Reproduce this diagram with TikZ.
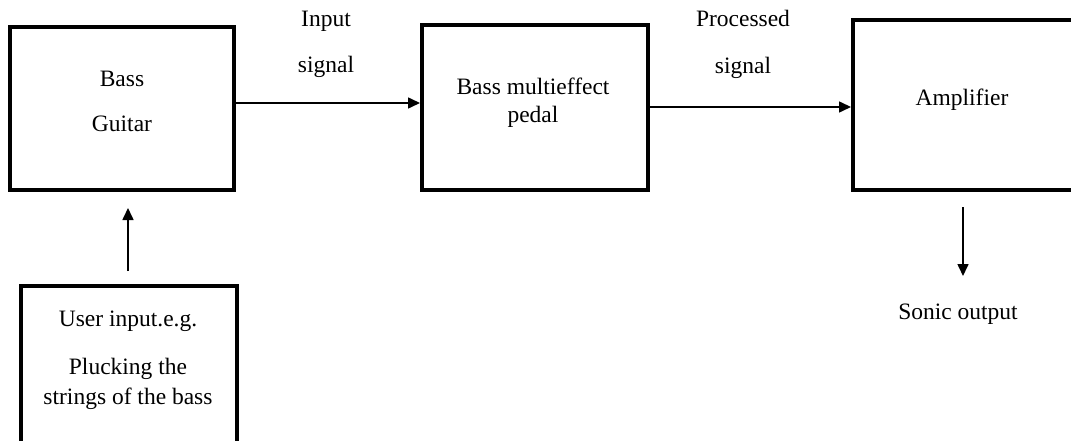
\documentclass[tikz,border=0pt]{standalone}
\usepackage{fontspec}
\setmainfont{Liberation Serif}
\usetikzlibrary{arrows.meta,calc}
\begin{document}
\begin{tikzpicture}[x=1pt,y=-1pt,
  block/.style={draw=black,line width=4pt,rectangle,inner sep=0pt,fill=none},
  lbl/.style={anchor=base,inner sep=0pt,font=\fontsize{23.5}{28}\selectfont},
  flow/.style={line width=1.6pt,-{Triangle[length=12pt,width=11pt]}}]
  \useasboundingbox (0,0) rectangle (1071,441);
  \clip (0,0) rectangle (1071,441);
  % blocks
  \node[block,minimum width=224pt,minimum height=163pt] (guitar) at (122,108.5) {};
  \node[block,minimum width=226pt,minimum height=165pt] (pedal) at (535,107.5) {};
  \node[block,minimum width=240pt,minimum height=170pt] (amp) at (973,105) {};
  \node[block,minimum width=216pt,minimum height=180pt] (user) at (128.5,376) {};
  % block texts
  \node[lbl] (t1) at (122,87) {Bass};
  \node[lbl] (t2) at (122,132) {Guitar};
  \node[lbl] (t3) at (533,95) {Bass multieffect};
  \node[lbl] (t4) at (533,123) {pedal};
  \node[lbl] (t5) at (962,106) {Amplifier};
  \node[lbl] (t6) at (128,326) {User input.e.g.};
  \node[lbl] (t7) at (128,374) {Plucking the};
  \node[lbl] (t8) at (128,404) {strings of the bass};
  % connector labels
  \node[lbl] (l1) at (326,27) {Input};
  \node[lbl] (l2) at (326,73) {signal};
  \node[lbl] (l3) at (743,27) {Processed};
  \node[lbl] (l4) at (743,74) {signal};
  \node[lbl] (l5) at (958,319) {Sonic output};
  % connectors
  \coordinate (r1) at (0,103);
  \coordinate (r2) at (0,107);
  \draw[flow] (r1 -| guitar.east) -- (r1 -| pedal.west);
  \draw[flow] (r2 -| pedal.east) -- (r2 -| amp.west);
  \coordinate (upstart) at (128,271);
  \coordinate (upend) at (128,208);
  \draw[flow] (upstart) -- (upend);
  \coordinate (downstart) at (963,207);
  \coordinate (downend) at (963,276);
  \draw[flow] (downstart) -- (downend);
\end{tikzpicture}
\end{document}
